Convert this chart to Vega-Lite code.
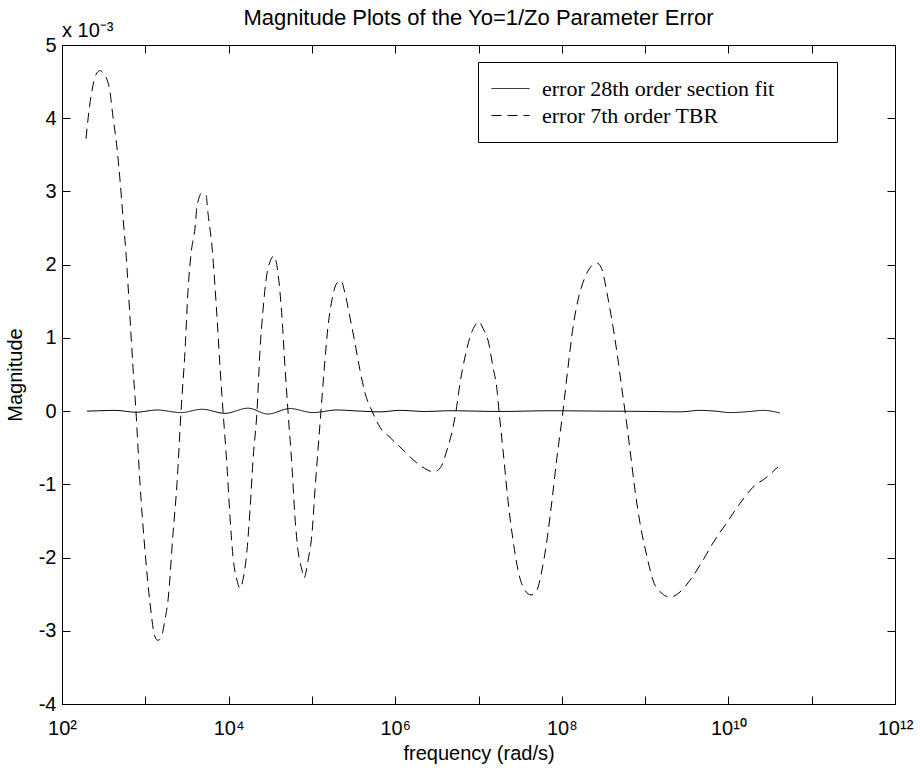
{
  "$schema": "https://vega.github.io/schema/vega-lite/v6.json",
  "width": 833,
  "height": 659,
  "autosize": {"type": "none"},
  "padding": {"left": 62, "top": 45, "right": 25, "bottom": 67},
  "background": "white",
  "title": {"text": "Magnitude Plots of the Yo=1/Zo Parameter Error", "font": "Liberation Sans", "fontSize": 22, "fontWeight": "normal", "color": "black", "anchor": "middle", "offset": -9},
  "config": {
    "view": {"stroke": "black", "strokeWidth": 1},
    "axis": {"grid": false, "domainColor": "black", "tickColor": "black", "labelColor": "black", "titleColor": "black", "labelFont": "Liberation Sans", "titleFont": "Liberation Sans", "labelFontSize": 20, "titleFontSize": 20, "titleFontWeight": "normal", "tickSize": -8, "domainWidth": 1, "tickWidth": 1}
  },
  "datasets": {
    "err": [
      {"log10_freq": 2.300, "magnitude": 0, "series": "error 28th order section fit"},
      {"log10_freq": 2.456, "magnitude": 0.005e-3, "series": "error 28th order section fit"},
      {"log10_freq": 2.636, "magnitude": 0.01e-3, "series": "error 28th order section fit"},
      {"log10_freq": 2.888, "magnitude": -0.015e-3, "series": "error 28th order section fit"},
      {"log10_freq": 3.140, "magnitude": 0.015e-3, "series": "error 28th order section fit"},
      {"log10_freq": 3.429, "magnitude": -0.02e-3, "series": "error 28th order section fit"},
      {"log10_freq": 3.681, "magnitude": 0.025e-3, "series": "error 28th order section fit"},
      {"log10_freq": 3.957, "magnitude": -0.03e-3, "series": "error 28th order section fit"},
      {"log10_freq": 4.233, "magnitude": 0.04e-3, "series": "error 28th order section fit"},
      {"log10_freq": 4.473, "magnitude": -0.04e-3, "series": "error 28th order section fit"},
      {"log10_freq": 4.737, "magnitude": 0.035e-3, "series": "error 28th order section fit"},
      {"log10_freq": 5.013, "magnitude": -0.02e-3, "series": "error 28th order section fit"},
      {"log10_freq": 5.301, "magnitude": 0.015e-3, "series": "error 28th order section fit"},
      {"log10_freq": 5.577, "magnitude": 0, "series": "error 28th order section fit"},
      {"log10_freq": 5.818, "magnitude": -0.01e-3, "series": "error 28th order section fit"},
      {"log10_freq": 6.058, "magnitude": 0.01e-3, "series": "error 28th order section fit"},
      {"log10_freq": 6.358, "magnitude": -0.005e-3, "series": "error 28th order section fit"},
      {"log10_freq": 6.658, "magnitude": 0.005e-3, "series": "error 28th order section fit"},
      {"log10_freq": 7.258, "magnitude": -0.005e-3, "series": "error 28th order section fit"},
      {"log10_freq": 7.858, "magnitude": 0.005e-3, "series": "error 28th order section fit"},
      {"log10_freq": 8.459, "magnitude": 0, "series": "error 28th order section fit"},
      {"log10_freq": 9.059, "magnitude": -0.005e-3, "series": "error 28th order section fit"},
      {"log10_freq": 9.419, "magnitude": -0.01e-3, "series": "error 28th order section fit"},
      {"log10_freq": 9.659, "magnitude": 0.01e-3, "series": "error 28th order section fit"},
      {"log10_freq": 9.839, "magnitude": 0, "series": "error 28th order section fit"},
      {"log10_freq": 10.019, "magnitude": -0.02e-3, "series": "error 28th order section fit"},
      {"log10_freq": 10.259, "magnitude": -0.005e-3, "series": "error 28th order section fit"},
      {"log10_freq": 10.415, "magnitude": 0.01e-3, "series": "error 28th order section fit"},
      {"log10_freq": 10.620, "magnitude": -0.025e-3, "series": "error 28th order section fit"},
      {"log10_freq": 2.288, "magnitude": 3.72e-3, "series": "error 7th order TBR"},
      {"log10_freq": 2.324, "magnitude": 4.1e-3, "series": "error 7th order TBR"},
      {"log10_freq": 2.372, "magnitude": 4.45e-3, "series": "error 7th order TBR"},
      {"log10_freq": 2.420, "magnitude": 4.62e-3, "series": "error 7th order TBR"},
      {"log10_freq": 2.456, "magnitude": 4.65e-3, "series": "error 7th order TBR"},
      {"log10_freq": 2.504, "magnitude": 4.6e-3, "series": "error 7th order TBR"},
      {"log10_freq": 2.540, "magnitude": 4.53e-3, "series": "error 7th order TBR"},
      {"log10_freq": 2.576, "magnitude": 4.36e-3, "series": "error 7th order TBR"},
      {"log10_freq": 2.612, "magnitude": 4.02e-3, "series": "error 7th order TBR"},
      {"log10_freq": 2.660, "magnitude": 3.6e-3, "series": "error 7th order TBR"},
      {"log10_freq": 2.696, "magnitude": 3.16e-3, "series": "error 7th order TBR"},
      {"log10_freq": 2.732, "magnitude": 2.65e-3, "series": "error 7th order TBR"},
      {"log10_freq": 2.768, "magnitude": 2.16e-3, "series": "error 7th order TBR"},
      {"log10_freq": 2.816, "magnitude": 1.28e-3, "series": "error 7th order TBR"},
      {"log10_freq": 2.852, "magnitude": 0.6e-3, "series": "error 7th order TBR"},
      {"log10_freq": 2.888, "magnitude": 0, "series": "error 7th order TBR"},
      {"log10_freq": 2.936, "magnitude": -0.98e-3, "series": "error 7th order TBR"},
      {"log10_freq": 2.996, "magnitude": -1.9e-3, "series": "error 7th order TBR"},
      {"log10_freq": 3.056, "magnitude": -2.62e-3, "series": "error 7th order TBR"},
      {"log10_freq": 3.116, "magnitude": -3.08e-3, "series": "error 7th order TBR"},
      {"log10_freq": 3.152, "magnitude": -3.13e-3, "series": "error 7th order TBR"},
      {"log10_freq": 3.188, "magnitude": -3.1e-3, "series": "error 7th order TBR"},
      {"log10_freq": 3.236, "magnitude": -2.85e-3, "series": "error 7th order TBR"},
      {"log10_freq": 3.273, "magnitude": -2.58e-3, "series": "error 7th order TBR"},
      {"log10_freq": 3.333, "magnitude": -1.67e-3, "series": "error 7th order TBR"},
      {"log10_freq": 3.381, "magnitude": -0.98e-3, "series": "error 7th order TBR"},
      {"log10_freq": 3.429, "magnitude": 0, "series": "error 7th order TBR"},
      {"log10_freq": 3.477, "magnitude": 0.83e-3, "series": "error 7th order TBR"},
      {"log10_freq": 3.513, "magnitude": 1.65e-3, "series": "error 7th order TBR"},
      {"log10_freq": 3.549, "magnitude": 2.15e-3, "series": "error 7th order TBR"},
      {"log10_freq": 3.597, "magnitude": 2.5e-3, "series": "error 7th order TBR"},
      {"log10_freq": 3.621, "magnitude": 2.8e-3, "series": "error 7th order TBR"},
      {"log10_freq": 3.681, "magnitude": 2.98e-3, "series": "error 7th order TBR"},
      {"log10_freq": 3.729, "magnitude": 2.95e-3, "series": "error 7th order TBR"},
      {"log10_freq": 3.753, "magnitude": 2.7e-3, "series": "error 7th order TBR"},
      {"log10_freq": 3.801, "magnitude": 2.24e-3, "series": "error 7th order TBR"},
      {"log10_freq": 3.861, "magnitude": 1.28e-3, "series": "error 7th order TBR"},
      {"log10_freq": 3.897, "magnitude": 0.6e-3, "series": "error 7th order TBR"},
      {"log10_freq": 3.933, "magnitude": 0, "series": "error 7th order TBR"},
      {"log10_freq": 3.981, "magnitude": -0.76e-3, "series": "error 7th order TBR"},
      {"log10_freq": 4.017, "magnitude": -1.45e-3, "series": "error 7th order TBR"},
      {"log10_freq": 4.053, "magnitude": -1.99e-3, "series": "error 7th order TBR"},
      {"log10_freq": 4.101, "magnitude": -2.31e-3, "series": "error 7th order TBR"},
      {"log10_freq": 4.137, "magnitude": -2.42e-3, "series": "error 7th order TBR"},
      {"log10_freq": 4.173, "magnitude": -2.3e-3, "series": "error 7th order TBR"},
      {"log10_freq": 4.221, "magnitude": -1.9e-3, "series": "error 7th order TBR"},
      {"log10_freq": 4.257, "magnitude": -1.35e-3, "series": "error 7th order TBR"},
      {"log10_freq": 4.293, "magnitude": -0.67e-3, "series": "error 7th order TBR"},
      {"log10_freq": 4.341, "magnitude": 0, "series": "error 7th order TBR"},
      {"log10_freq": 4.377, "magnitude": 0.83e-3, "series": "error 7th order TBR"},
      {"log10_freq": 4.413, "magnitude": 1.38e-3, "series": "error 7th order TBR"},
      {"log10_freq": 4.461, "magnitude": 1.88e-3, "series": "error 7th order TBR"},
      {"log10_freq": 4.497, "magnitude": 2.04e-3, "series": "error 7th order TBR"},
      {"log10_freq": 4.545, "magnitude": 2.12e-3, "series": "error 7th order TBR"},
      {"log10_freq": 4.593, "magnitude": 1.88e-3, "series": "error 7th order TBR"},
      {"log10_freq": 4.641, "magnitude": 1.28e-3, "series": "error 7th order TBR"},
      {"log10_freq": 4.677, "magnitude": 0.6e-3, "series": "error 7th order TBR"},
      {"log10_freq": 4.713, "magnitude": 0, "series": "error 7th order TBR"},
      {"log10_freq": 4.761, "magnitude": -0.76e-3, "series": "error 7th order TBR"},
      {"log10_freq": 4.797, "magnitude": -1.45e-3, "series": "error 7th order TBR"},
      {"log10_freq": 4.833, "magnitude": -1.9e-3, "series": "error 7th order TBR"},
      {"log10_freq": 4.881, "magnitude": -2.17e-3, "series": "error 7th order TBR"},
      {"log10_freq": 4.905, "magnitude": -2.28e-3, "series": "error 7th order TBR"},
      {"log10_freq": 4.953, "magnitude": -2.04e-3, "series": "error 7th order TBR"},
      {"log10_freq": 5.001, "magnitude": -1.67e-3, "series": "error 7th order TBR"},
      {"log10_freq": 5.037, "magnitude": -1.08e-3, "series": "error 7th order TBR"},
      {"log10_freq": 5.073, "magnitude": -0.53e-3, "series": "error 7th order TBR"},
      {"log10_freq": 5.109, "magnitude": 0, "series": "error 7th order TBR"},
      {"log10_freq": 5.157, "magnitude": 0.7e-3, "series": "error 7th order TBR"},
      {"log10_freq": 5.193, "magnitude": 1.15e-3, "series": "error 7th order TBR"},
      {"log10_freq": 5.241, "magnitude": 1.52e-3, "series": "error 7th order TBR"},
      {"log10_freq": 5.301, "magnitude": 1.75e-3, "series": "error 7th order TBR"},
      {"log10_freq": 5.349, "magnitude": 1.78e-3, "series": "error 7th order TBR"},
      {"log10_freq": 5.397, "magnitude": 1.61e-3, "series": "error 7th order TBR"},
      {"log10_freq": 5.457, "magnitude": 1.28e-3, "series": "error 7th order TBR"},
      {"log10_freq": 5.517, "magnitude": 0.93e-3, "series": "error 7th order TBR"},
      {"log10_freq": 5.577, "magnitude": 0.56e-3, "series": "error 7th order TBR"},
      {"log10_freq": 5.637, "magnitude": 0.25e-3, "series": "error 7th order TBR"},
      {"log10_freq": 5.722, "magnitude": 0, "series": "error 7th order TBR"},
      {"log10_freq": 5.818, "magnitude": -0.22e-3, "series": "error 7th order TBR"},
      {"log10_freq": 5.938, "magnitude": -0.36e-3, "series": "error 7th order TBR"},
      {"log10_freq": 6.094, "magnitude": -0.53e-3, "series": "error 7th order TBR"},
      {"log10_freq": 6.262, "magnitude": -0.71e-3, "series": "error 7th order TBR"},
      {"log10_freq": 6.382, "magnitude": -0.8e-3, "series": "error 7th order TBR"},
      {"log10_freq": 6.454, "magnitude": -0.83e-3, "series": "error 7th order TBR"},
      {"log10_freq": 6.538, "magnitude": -0.78e-3, "series": "error 7th order TBR"},
      {"log10_freq": 6.622, "magnitude": -0.53e-3, "series": "error 7th order TBR"},
      {"log10_freq": 6.694, "magnitude": -0.22e-3, "series": "error 7th order TBR"},
      {"log10_freq": 6.730, "magnitude": 0, "series": "error 7th order TBR"},
      {"log10_freq": 6.778, "magnitude": 0.38e-3, "series": "error 7th order TBR"},
      {"log10_freq": 6.838, "magnitude": 0.74e-3, "series": "error 7th order TBR"},
      {"log10_freq": 6.898, "magnitude": 1.01e-3, "series": "error 7th order TBR"},
      {"log10_freq": 6.958, "magnitude": 1.17e-3, "series": "error 7th order TBR"},
      {"log10_freq": 7.006, "magnitude": 1.22e-3, "series": "error 7th order TBR"},
      {"log10_freq": 7.054, "magnitude": 1.13e-3, "series": "error 7th order TBR"},
      {"log10_freq": 7.114, "magnitude": 0.97e-3, "series": "error 7th order TBR"},
      {"log10_freq": 7.174, "magnitude": 0.6e-3, "series": "error 7th order TBR"},
      {"log10_freq": 7.222, "magnitude": 0.29e-3, "series": "error 7th order TBR"},
      {"log10_freq": 7.246, "magnitude": 0, "series": "error 7th order TBR"},
      {"log10_freq": 7.294, "magnitude": -0.53e-3, "series": "error 7th order TBR"},
      {"log10_freq": 7.354, "magnitude": -1.22e-3, "series": "error 7th order TBR"},
      {"log10_freq": 7.414, "magnitude": -1.76e-3, "series": "error 7th order TBR"},
      {"log10_freq": 7.474, "magnitude": -2.17e-3, "series": "error 7th order TBR"},
      {"log10_freq": 7.534, "magnitude": -2.4e-3, "series": "error 7th order TBR"},
      {"log10_freq": 7.630, "magnitude": -2.51e-3, "series": "error 7th order TBR"},
      {"log10_freq": 7.702, "magnitude": -2.44e-3, "series": "error 7th order TBR"},
      {"log10_freq": 7.762, "magnitude": -2.17e-3, "series": "error 7th order TBR"},
      {"log10_freq": 7.822, "magnitude": -1.76e-3, "series": "error 7th order TBR"},
      {"log10_freq": 7.882, "magnitude": -1.22e-3, "series": "error 7th order TBR"},
      {"log10_freq": 7.942, "magnitude": -0.63e-3, "series": "error 7th order TBR"},
      {"log10_freq": 8.014, "magnitude": 0, "series": "error 7th order TBR"},
      {"log10_freq": 8.075, "magnitude": 0.6e-3, "series": "error 7th order TBR"},
      {"log10_freq": 8.135, "magnitude": 1.15e-3, "series": "error 7th order TBR"},
      {"log10_freq": 8.195, "magnitude": 1.52e-3, "series": "error 7th order TBR"},
      {"log10_freq": 8.279, "magnitude": 1.83e-3, "series": "error 7th order TBR"},
      {"log10_freq": 8.363, "magnitude": 1.99e-3, "series": "error 7th order TBR"},
      {"log10_freq": 8.423, "magnitude": 2.02e-3, "series": "error 7th order TBR"},
      {"log10_freq": 8.483, "magnitude": 1.93e-3, "series": "error 7th order TBR"},
      {"log10_freq": 8.543, "magnitude": 1.61e-3, "series": "error 7th order TBR"},
      {"log10_freq": 8.615, "magnitude": 1.15e-3, "series": "error 7th order TBR"},
      {"log10_freq": 8.675, "magnitude": 0.7e-3, "series": "error 7th order TBR"},
      {"log10_freq": 8.723, "magnitude": 0.29e-3, "series": "error 7th order TBR"},
      {"log10_freq": 8.759, "magnitude": 0, "series": "error 7th order TBR"},
      {"log10_freq": 8.819, "magnitude": -0.53e-3, "series": "error 7th order TBR"},
      {"log10_freq": 8.879, "magnitude": -1.08e-3, "series": "error 7th order TBR"},
      {"log10_freq": 8.939, "magnitude": -1.53e-3, "series": "error 7th order TBR"},
      {"log10_freq": 9.023, "magnitude": -1.99e-3, "series": "error 7th order TBR"},
      {"log10_freq": 9.095, "magnitude": -2.31e-3, "series": "error 7th order TBR"},
      {"log10_freq": 9.203, "magnitude": -2.49e-3, "series": "error 7th order TBR"},
      {"log10_freq": 9.299, "magnitude": -2.54e-3, "series": "error 7th order TBR"},
      {"log10_freq": 9.419, "magnitude": -2.47e-3, "series": "error 7th order TBR"},
      {"log10_freq": 9.539, "magnitude": -2.31e-3, "series": "error 7th order TBR"},
      {"log10_freq": 9.683, "magnitude": -2.06e-3, "series": "error 7th order TBR"},
      {"log10_freq": 9.815, "magnitude": -1.8e-3, "series": "error 7th order TBR"},
      {"log10_freq": 9.983, "magnitude": -1.52e-3, "series": "error 7th order TBR"},
      {"log10_freq": 10.139, "magnitude": -1.26e-3, "series": "error 7th order TBR"},
      {"log10_freq": 10.295, "magnitude": -1.04e-3, "series": "error 7th order TBR"},
      {"log10_freq": 10.463, "magnitude": -0.9e-3, "series": "error 7th order TBR"},
      {"log10_freq": 10.596, "magnitude": -0.76e-3, "series": "error 7th order TBR"}
    ]
  },
  "layer": [
    {
      "data": {"name": "err"},
      "mark": {"type": "line", "interpolate": "monotone", "strokeWidth": 1, "color": "black"},
      "encoding": {
        "x": {"field": "log10_freq", "type": "quantitative", "scale": {"domain": [2, 12], "nice": false, "zero": false},
              "axis": {"orient": "bottom", "values": [2,3,4,5,6,7,8,9,10,11,12], "labelExpr": "datum.value == 2 ? '10²' : datum.value == 4 ? '10⁴' : datum.value == 6 ? '10⁶' : datum.value == 8 ? '10⁸' : datum.value == 10 ? '10¹⁰' : datum.value == 12 ? '10¹²' : ''", "labelPadding": 22, "title": "frequency (rad/s)", "titlePadding": 5, "labelFlush": false}},
        "y": {"field": "magnitude", "type": "quantitative", "scale": {"domain": [-0.004, 0.005], "nice": false, "zero": false},
              "axis": {"orient": "left", "values": [-0.004,-0.003,-0.002,-0.001,0,0.001,0.002,0.003,0.004,0.005], "labelExpr": "'' + round(datum.value * 1000)", "labelPadding": 14, "title": "Magnitude", "titlePadding": 13, "labelFlush": false}},
        "strokeDash": {"field": "series", "type": "nominal",
              "scale": {"domain": ["error 28th order section fit", "error 7th order TBR"], "range": [[1, 0], [10, 6]]},
              "legend": {"orient": "none", "legendX": 416, "legendY": 17, "title": null, "symbolType": "stroke", "symbolSize": 1444, "symbolStrokeWidth": 1, "symbolStrokeColor": "black", "labelFont": "Liberation Serif", "labelFontSize": 22, "labelColor": "black", "labelLimit": 500, "strokeColor": "black", "fillColor": "white", "padding": 13, "clipHeight": 27, "labelOffset": 12, "rowPadding": 0, "labelExpr": "datum.label + '\u00a0\u00a0\u00a0\u00a0\u00a0\u00a0\u00a0\u00a0\u00a0\u200b'"}}
      }
    },
    {
      "data": {"name": "err"},
      "mark": {"type": "point", "opacity": 0},
      "encoding": {
        "x": {"field": "log10_freq", "type": "quantitative", "axis": {"orient": "top", "values": [2,3,4,5,6,7,8,9,10,11,12], "labels": false, "title": null}},
        "y": {"field": "magnitude", "type": "quantitative", "axis": {"orient": "right", "values": [-0.004,-0.003,-0.002,-0.001,0,0.001,0.002,0.003,0.004,0.005], "labels": false, "title": null}}
      }
    },
    {
      "data": {"values": [{"multiplier": "x 10⁻³"}]},
      "mark": {"type": "text", "align": "left", "baseline": "alphabetic", "font": "Liberation Sans", "fontSize": 20, "color": "black", "dy": -8},
      "encoding": {
        "x": {"datum": 2, "type": "quantitative", "axis": null},
        "y": {"datum": 0.005, "type": "quantitative", "axis": null},
        "text": {"field": "multiplier"}
      }
    }
  ],
  "resolve": {"axis": {"x": "independent", "y": "independent"}}
}
